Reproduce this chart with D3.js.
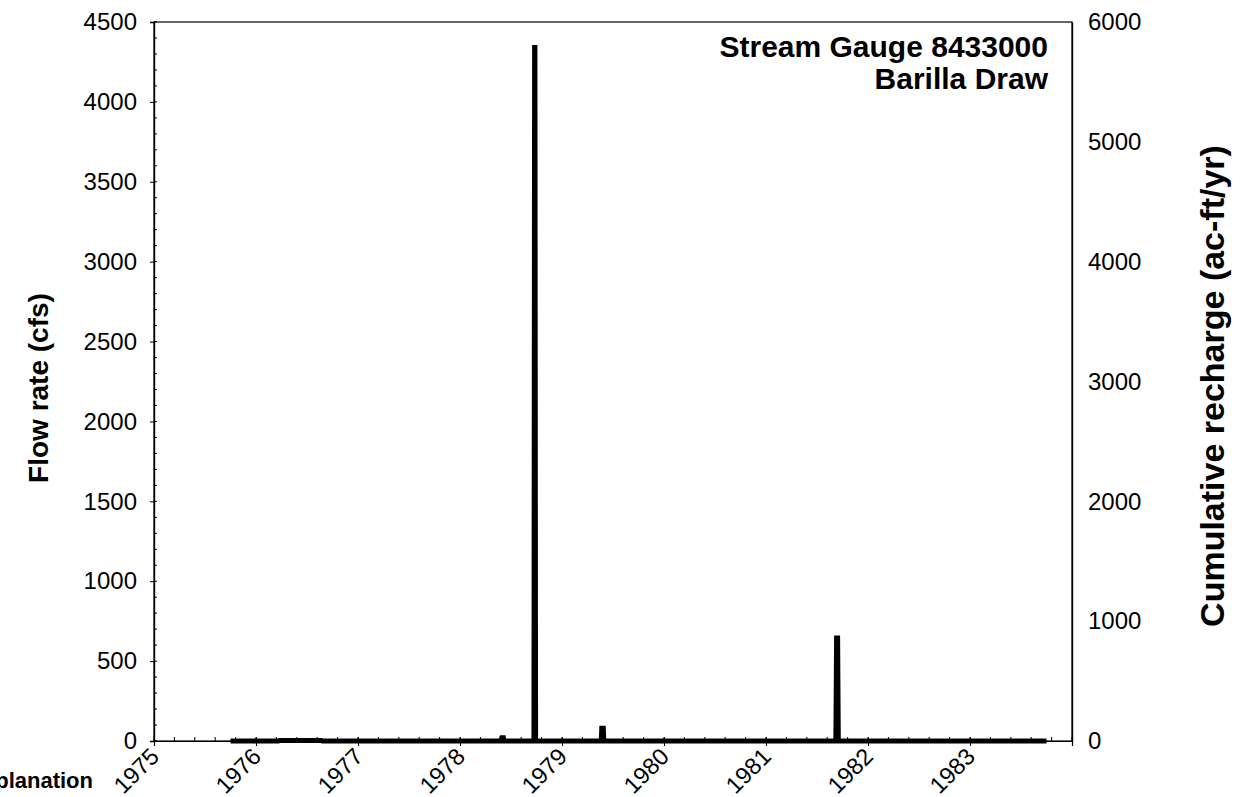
<!DOCTYPE html>
<html>
<head>
<meta charset="utf-8">
<script src="https://cdn.jsdelivr.net/npm/d3@7"></script>
<style>
  html, body { margin: 0; padding: 0; background: #fff; }
  svg { display: block; }
  text { font-family: "Liberation Sans", Arial, Helvetica, sans-serif; fill: #000; }
</style>
</head>
<body>
<svg id="chart" width="1242" height="797"></svg>
<script>
// ---- data ----
const yearTicks = [1975, 1976, 1977, 1978, 1979, 1980, 1981, 1982, 1983];
const flowTicks = [0, 500, 1000, 1500, 2000, 2500, 3000, 3500, 4000, 4500];
const rechargeTicks = [0, 1000, 2000, 3000, 4000, 5000, 6000];
// daily flow record, decimal year vs. flow rate (cfs)
const flowDate = [1975.75, 1976.22, 1976.23, 1976.64, 1976.65,
                  1978.40, 1978.41, 1978.425, 1978.43,
                  1978.725, 1978.7315, 1978.7345, 1978.741,
                  1979.385, 1979.39, 1979.405, 1979.41,
                  1981.685, 1981.692, 1981.702, 1981.709,
                  1983.75];
const flowCfs  = [0, 0, 3, 3, 0,
                  0, 20, 20, 0,
                  0, 4340, 4340, 0,
                  0, 80, 80, 0,
                  0, 645, 645, 0,
                  0];
const titleLines = ["Stream Gauge 8433000", "Barilla Draw"];

// ---- layout ----
const svg = d3.select("#chart");
const L = 154, R = 1072, T = 22, B = 741;
const FONT = "Liberation Sans, Arial, sans-serif";

const x = d3.scaleLinear().domain([1975, 1984]).range([L, R]);
const yL = d3.scaleLinear().domain([0, 4500]).range([B, T]);
const yR = d3.scaleLinear().domain([0, 6000]).range([B, T]);

// frame
svg.append("rect").attr("x", L).attr("y", T).attr("width", R - L).attr("height", B - T)
  .attr("fill", "none").attr("stroke", "#000").attr("stroke-width", 1.2);

// minor ticks
const g = svg.append("g");
d3.range(0, 4501, 100).forEach(v => {
  g.append("line").attr("x1", L).attr("x2", L + 3).attr("y1", yL(v)).attr("y2", yL(v))
    .attr("stroke", "#000").attr("stroke-width", 1);
});
d3.range(0, 9.01, 0.2).forEach(k => {
  const xv = x(1975 + k);
  g.append("line").attr("x1", xv).attr("x2", xv).attr("y1", B).attr("y2", B - 4)
    .attr("stroke", "#000").attr("stroke-width", 1);
});

// left axis
const axL = svg.append("g").attr("transform", `translate(${L},0)`)
  .call(d3.axisLeft(yL).tickValues(flowTicks).tickSize(4).tickPadding(13).tickFormat(d3.format("d")));
axL.select(".domain").attr("stroke-width", 1.4);
axL.selectAll("text").attr("font-size", 24).style("font-family", FONT);

// right axis
const axR = svg.append("g").attr("transform", `translate(${R},0)`)
  .call(d3.axisRight(yR).tickValues(rechargeTicks).tickSize(0).tickPadding(16).tickFormat(d3.format("d")));
axR.select(".domain").attr("stroke-width", 1.4);
axR.selectAll("text").attr("font-size", 24).style("font-family", FONT);

// bottom axis
const axB = svg.append("g").attr("transform", `translate(0,${B})`)
  .call(d3.axisBottom(x).tickValues(yearTicks).tickSize(5).tickFormat(d3.format("d")));
axB.select(".domain").attr("stroke-width", 1.2);
axB.selectAll(".tick line").attr("y1", -4);
axB.selectAll("text")
  .attr("font-size", 23.5)
  .style("font-family", FONT)
  .attr("text-anchor", "end")
  .attr("x", 0).attr("y", 0).attr("dy", 0)
  .attr("transform", "translate(6,17) rotate(-45)");

// flow line
const pts = flowDate.map((d, i) => [d, flowCfs[i]]);
svg.append("path")
  .datum(pts)
  .attr("fill", "none")
  .attr("stroke", "#000")
  .attr("stroke-width", 5)
  .attr("stroke-linejoin", "miter")
  .attr("stroke-miterlimit", 2)
  .attr("d", d3.line().x(d => x(d[0])).y(d => yL(d[1])));

// title
svg.append("text").attr("x", 1048).attr("y", 57).attr("text-anchor", "end")
  .attr("font-size", 30).attr("font-weight", "bold").text(titleLines[0]);
svg.append("text").attr("x", 1048).attr("y", 89).attr("text-anchor", "end")
  .attr("font-size", 30).attr("font-weight", "bold").text(titleLines[1]);

// axis titles
svg.append("text").attr("transform", "translate(48,388) rotate(-90)")
  .attr("text-anchor", "middle").attr("font-size", 28).attr("font-weight", "bold")
  .text("Flow rate (cfs)");
svg.append("text").attr("transform", "translate(1224,386) rotate(-90)")
  .attr("text-anchor", "middle").attr("font-size", 34).attr("font-weight", "bold")
  .text("Cumulative recharge (ac-ft/yr)");

// clipped legend heading
svg.append("text").attr("x", 93).attr("y", 788).attr("text-anchor", "end")
  .attr("font-size", 22).attr("font-weight", "bold").text("Explanation");
</script>
</body>
</html>
